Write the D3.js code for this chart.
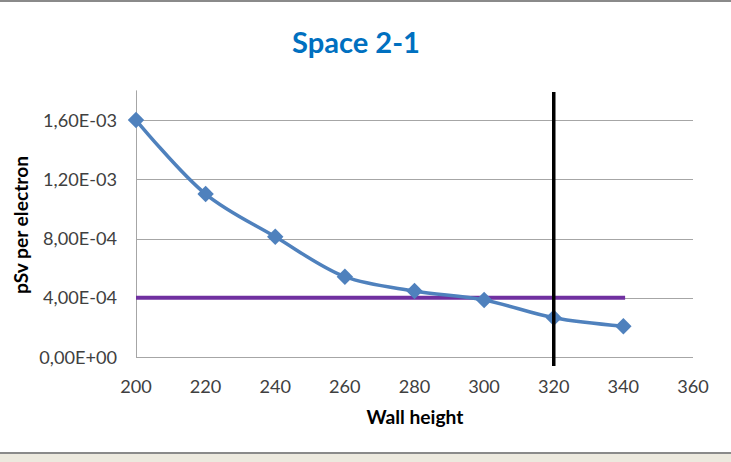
<!DOCTYPE html>
<html><head><meta charset="utf-8">
<script src="https://cdn.jsdelivr.net/npm/d3@7"></script>
<style>body{margin:0;background:#fff;}svg{display:block;}</style>
</head><body>
<script>
const wallHeight = [200, 220, 240, 260, 280, 300, 320, 340];
const dose = [1.60e-3, 1.10e-3, 8.12e-4, 5.42e-4, 4.46e-4, 3.85e-4, 2.65e-4, 2.08e-4];
const limitValue = 4.0e-4;
const limitRange = [200, 340.5];
const markerX = 320;
const yTicks = [0, 4e-4, 8e-4, 1.2e-3, 1.6e-3];
const yTickLabels = ["0,00E+00", "4,00E-04", "8,00E-04", "1,20E-03", "1,60E-03"];
const xTicks = [200, 220, 240, 260, 280, 300, 320, 340, 360];

const W = 731, H = 462;
const svg = d3.select("body").append("svg").attr("width", W).attr("height", H);
const font = "Lato, 'Open Sans', sans-serif";

// scale a text element's font so that its width matches the target width
function fit(sel, target) {
  const n = sel.node();
  const fs = parseFloat(sel.attr("font-size"));
  const w = n.getComputedTextLength();
  if (w > 0) sel.attr("font-size", (fs * target / w).toFixed(2));
  return sel;
}

svg.append("rect").attr("x",0).attr("y",0).attr("width",W).attr("height",H).attr("fill","#fff");
svg.append("rect").attr("x",0).attr("y",453).attr("width",W).attr("height",H-453).attr("fill","#ECE9DE");
svg.append("rect").attr("x",0).attr("y",452).attr("width",W).attr("height",2).attr("fill","#8a8a8a");
svg.append("rect").attr("x",0).attr("y",0).attr("width",W).attr("height",2).attr("fill","#8a8a8a");

const x = d3.scaleLinear().domain([200, 360]).range([136, 693]);
const y = d3.scaleLinear().domain([0, 1.8e-3]).range([357, 90.4]);

// gridlines
svg.append("g").selectAll("line").data(yTicks.slice(1)).join("line")
  .attr("x1", x(200)).attr("x2", x(360))
  .attr("y1", d => Math.round(y(d)) + 0.5).attr("y2", d => Math.round(y(d)) + 0.5)
  .attr("stroke", "#a6a6a6").attr("stroke-width", 1);

// axes lines
svg.append("line").attr("x1", x(200)+0.5).attr("x2", x(200)+0.5).attr("y1", y(1.8e-3)).attr("y2", y(0))
  .attr("stroke", "#a6a6a6");
svg.append("line").attr("x1", x(200)).attr("x2", x(360)).attr("y1", Math.round(y(0))+0.5).attr("y2", Math.round(y(0))+0.5)
  .attr("stroke", "#a6a6a6");

// tick font size derived from target width of a sample label
const probe = svg.append("text").attr("font-family", font).attr("font-size", 16).text("1,60E-03");
fit(probe, 74);
const tickFs = parseFloat(probe.attr("font-size"));
probe.remove();

// y tick labels
svg.append("g").selectAll("text").data(yTicks).join("text")
  .attr("x", 117).attr("y", d => y(d)).attr("dy", "0.36em")
  .attr("text-anchor", "end").attr("font-family", font).attr("font-size", tickFs).attr("fill", "#404040")
  .text((d,i) => yTickLabels[i]);

// x tick labels
svg.append("g").selectAll("text").data(xTicks).join("text")
  .attr("x", d => x(d)).attr("y", 393)
  .attr("text-anchor", "middle").attr("font-family", font).attr("font-size", tickFs).attr("fill", "#404040")
  .text(d => d);

// limit line
svg.append("line").attr("x1", x(limitRange[0])).attr("x2", x(limitRange[1]))
  .attr("y1", y(limitValue)).attr("y2", y(limitValue))
  .attr("stroke", "#7030A0").attr("stroke-width", 4);

// data line
const line = d3.line().x((d,i) => x(wallHeight[i])).y(d => y(d)).curve(d3.curveCatmullRom.alpha(0.5));
svg.append("path").datum(dose).attr("d", line).attr("fill", "none")
  .attr("stroke", "#4F81BD").attr("stroke-width", 3.5).attr("stroke-linejoin","round");

// markers
svg.append("g").selectAll("path").data(dose).join("path")
  .attr("d", d3.symbol().type(d3.symbolSquare).size(135))
  .attr("transform", (d,i) => `translate(${x(wallHeight[i])},${y(d)}) rotate(45)`)
  .attr("fill", "#4F81BD");

// vertical marker line
svg.append("line").attr("x1", x(markerX)).attr("x2", x(markerX))
  .attr("y1", 92).attr("y2", 366)
  .attr("stroke", "#000").attr("stroke-width", 3.5);

// titles
fit(svg.append("text").attr("x", 356).attr("y", 53).attr("text-anchor", "middle")
  .attr("font-family", font).attr("font-weight", "bold").attr("font-size", 24).attr("fill", "#0070C0")
  .text("Space 2-1"), 128);
fit(svg.append("text").attr("x", 415).attr("y", 424).attr("text-anchor", "middle")
  .attr("font-family", font).attr("font-weight", "bold").attr("font-size", 16).attr("fill", "#000")
  .text("Wall height"), 97);
fit(svg.append("text").attr("transform", "translate(28,225) rotate(-90)").attr("text-anchor", "middle")
  .attr("font-family", font).attr("font-weight", "bold").attr("font-size", 16).attr("fill", "#000")
  .text("pSv per electron"), 138);
</script>
</body></html>
